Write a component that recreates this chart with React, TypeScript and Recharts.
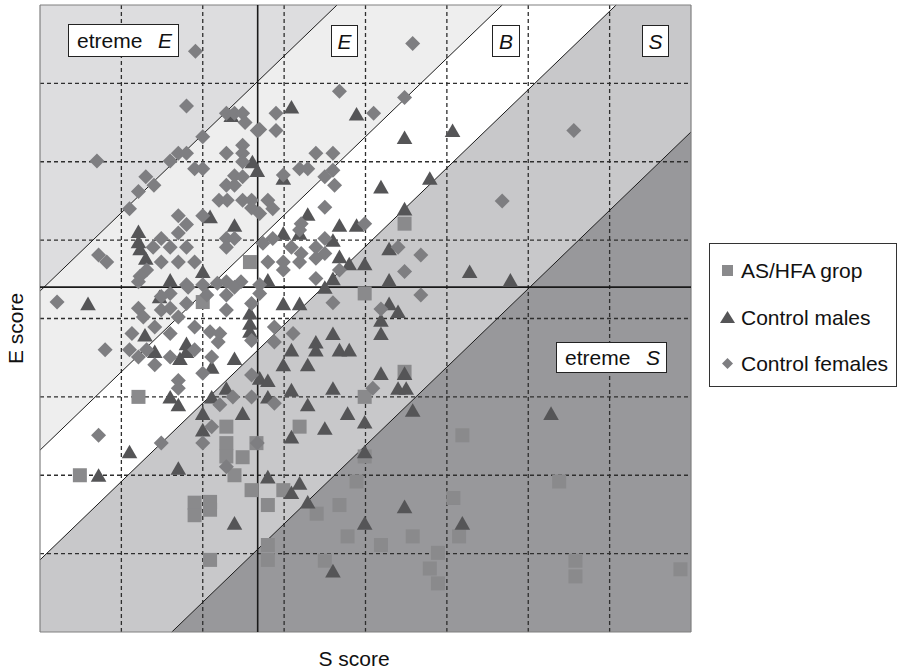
import React from 'react';
import { ComposedChart, Area, Scatter, XAxis, YAxis, ReferenceLine } from 'recharts';

// score range on both axes and grid step
const scoreDomain = [0, 80];
const gridTicks = [10, 20, 30, 40, 50, 60, 70];
const sMean = 26.75;
const eMean = 44;

// diagonal group boundaries: E = S + c
const boundaryOffsets = [43.5, 23.2, 9.2, -16.2];
const bandNames = ['extremeE', 'typeE', 'typeB', 'typeS', 'extremeS'];
const bandColors = ['#dddddf', '#eeeeee', '#ffffff', '#c8c8ca', '#98989b'];

// [S score, E score]
const asHfaGroup = [
  [25.8, 47.2], [44.8, 52.1], [20.0, 42.1], [12.1, 30.0], [22.9, 26.2], [22.9, 24.1], [22.9, 22.4], [24.9, 22.3],
  [26.6, 24.1], [23.9, 20.0], [4.9, 20.0], [39.9, 43.2], [44.8, 33.2], [39.9, 30.0], [31.9, 26.2], [39.9, 22.4],
  [51.9, 25.1], [26.0, 18.1], [19.0, 16.5], [19.0, 14.9], [20.9, 16.6], [20.9, 15.6], [28.0, 16.2], [29.9, 18.1],
  [20.9, 9.2], [28.0, 11.1], [28.0, 9.2], [38.9, 19.2], [36.8, 16.2], [34.0, 15.1], [37.8, 12.2], [41.9, 11.1],
  [45.8, 12.2], [35.0, 9.1], [48.9, 10.1], [47.9, 8.1], [48.9, 6.2], [50.8, 17.1], [51.5, 12.2], [63.8, 19.2],
  [65.8, 9.1], [65.8, 7.1], [78.7, 8.0],
];

const controlMales = [
  [23.5, 65.9], [30.9, 67.0], [38.9, 66.1], [44.8, 63.1], [50.7, 64.0], [26.1, 60.0], [26.7, 58.9], [29.9, 57.9],
  [41.9, 56.8], [47.9, 57.9], [44.8, 54.0], [32.9, 53.3], [20.9, 53.0], [23.9, 51.9], [36.8, 51.9], [38.9, 51.9],
  [12.1, 51.1], [12.1, 49.8], [12.3, 48.9], [13.0, 47.7], [29.9, 50.9], [31.9, 50.9], [36.0, 50.0], [42.9, 48.9],
  [36.8, 47.9], [38.0, 47.0], [39.9, 47.0], [20.0, 46.0], [16.0, 44.9], [36.0, 45.1], [42.9, 44.9], [28.0, 44.9],
  [52.8, 46.0], [57.8, 44.9], [5.9, 41.9], [14.7, 42.8], [35.0, 44.0], [29.9, 41.9], [31.9, 41.9], [42.9, 41.9],
  [44.0, 40.9], [41.9, 39.8], [41.9, 38.1], [25.8, 40.7], [25.8, 39.4], [25.8, 38.4], [12.9, 37.9], [18.0, 36.8],
  [18.0, 35.8], [17.2, 34.9], [14.1, 35.8], [23.9, 34.9], [21.1, 33.8], [36.0, 38.1], [33.9, 37.0], [33.9, 36.0],
  [30.9, 36.0], [36.8, 36.0], [38.0, 36.0], [29.9, 34.1], [32.9, 34.1], [27.0, 32.4], [28.0, 32.1], [41.9, 33.0],
  [44.8, 33.0], [16.0, 30.0], [17.0, 29.0], [21.1, 30.0], [22.9, 31.1], [30.9, 30.9], [36.0, 31.1], [44.0, 31.1],
  [45.0, 31.1], [28.0, 30.0], [20.0, 27.9], [24.9, 27.9], [32.9, 29.0], [37.8, 27.9], [45.8, 28.3], [62.8, 27.9],
  [39.9, 26.8], [35.0, 26.0], [20.0, 25.8], [30.9, 24.9], [11.0, 23.0], [39.9, 23.0], [17.0, 20.9], [7.2, 20.0],
  [28.0, 19.8], [31.9, 19.0], [30.9, 17.8], [32.9, 16.6], [23.9, 13.9], [39.9, 13.9], [44.8, 16.0], [51.9, 13.9],
  [36.0, 7.8],
];

const controlFemales = [
  [19.1, 74.1], [45.8, 75.1], [18.0, 67.1], [36.8, 69.0], [44.8, 68.2], [65.6, 64.0], [56.8, 55.0],
  [22.9, 66.2], [23.9, 66.2], [24.9, 66.2], [25.2, 65.0], [26.7, 64.0], [29.0, 66.2], [27.0, 64.1], [29.0, 64.0],
  [41.0, 66.2], [20.0, 63.2], [24.9, 62.1], [24.9, 61.1], [22.9, 61.1], [17.0, 61.1], [18.0, 61.1], [16.0, 60.1],
  [7.0, 60.1], [24.9, 60.0], [19.0, 59.1], [20.0, 59.1], [23.9, 58.2], [13.0, 58.1], [22.9, 57.0], [23.9, 57.0],
  [14.0, 57.0], [24.9, 58.1], [12.1, 56.2], [22.0, 55.1], [23.0, 55.1], [24.9, 55.1], [26.0, 55.1], [11.0, 54.0],
  [26.0, 54.1], [17.0, 53.1], [20.0, 53.1], [18.0, 52.0], [17.0, 50.9], [22.9, 50.2], [23.9, 50.2], [14.9, 50.2],
  [13.9, 49.1], [16.0, 49.1], [18.0, 49.1], [22.9, 49.1], [7.2, 48.1], [8.2, 47.2], [14.9, 47.2], [17.0, 47.2],
  [19.0, 47.2], [13.1, 46.2], [12.3, 45.4], [18.0, 44.3], [20.0, 44.3], [21.8, 44.5], [22.9, 44.7], [24.7, 44.7],
  [33.9, 61.1], [36.0, 61.1], [31.9, 59.1], [32.9, 59.1], [36.0, 58.9], [35.0, 58.1], [29.9, 58.3], [36.2, 57.0],
  [28.0, 55.1], [28.6, 54.0], [27.0, 53.4], [35.0, 54.2], [32.1, 52.1], [39.9, 52.1], [31.9, 51.3], [28.6, 50.2],
  [27.4, 49.6], [35.0, 50.2], [30.9, 49.1], [33.9, 49.1], [32.1, 48.3], [35.0, 48.3], [33.9, 47.7], [28.0, 47.2],
  [29.9, 47.2], [31.9, 47.2], [29.9, 46.2], [46.8, 48.1], [44.8, 46.0], [44.0, 49.1], [33.9, 45.1], [36.8, 46.2],
  [27.0, 44.3], [2.1, 42.1], [12.1, 44.7], [18.2, 44.0], [23.9, 44.0], [16.0, 43.2], [14.9, 42.8], [20.5, 43.0],
  [22.9, 43.0], [12.1, 41.3], [12.7, 40.2], [14.9, 41.1], [17.0, 40.2], [16.0, 41.3], [18.0, 41.9], [22.9, 41.1],
  [26.0, 41.9], [11.3, 38.1], [14.1, 38.9], [16.0, 38.1], [19.0, 38.9], [20.9, 38.3], [22.1, 38.1], [21.9, 37.0],
  [26.0, 37.2], [8.0, 36.0], [11.0, 36.0], [12.1, 35.1], [13.1, 36.0], [16.0, 35.1], [14.1, 34.1], [19.0, 36.0],
  [21.1, 35.1], [20.0, 33.0], [17.0, 32.1], [17.0, 31.1], [22.1, 29.0], [23.7, 30.0], [26.0, 30.0], [26.0, 32.8],
  [21.1, 26.2], [20.0, 24.1], [14.9, 24.1], [7.2, 25.1], [46.8, 43.0], [36.0, 42.0], [41.9, 41.2], [28.8, 38.9],
  [31.1, 38.1], [28.8, 37.0], [28.8, 29.2], [40.9, 31.1], [27.0, 43.2], [22.9, 21.1], [26.7, 24.1],
];

const seriesNames = ['AS/HFA grop', 'Control males', 'Control females'];
const seriesColors = ['#8a8a8c', '#555557', '#7e7e81'];

const toPoints = (rows: number[][]) => rows.map(([s, e]) => ({ s, e }));

// range areas between neighbouring boundaries (clipped by the plot)
const edges = [400, ...boundaryOffsets, -400];
const bandData = scoreDomain.map((s) => {
  const row: any = { s };
  bandNames.forEach((name, i) => {
    row[name] = [s + edges[i + 1], s + edges[i]];
  });
  return row;
});

const boundarySegment = (c: number) =>
  c >= 0
    ? [{ x: 0, y: c }, { x: 80 - c, y: 80 }]
    : [{ x: -c, y: 0 }, { x: 80, y: 80 + c }];

const SquareMark = (p: any) => {
  if (p.cx == null) return null;
  return <rect x={p.cx - 7} y={p.cy - 7} width={14} height={14} fill={p.fill} />;
};

const TriangleMark = (p: any) => {
  if (p.cx == null) return null;
  const { cx, cy } = p;
  return <polygon points={`${cx},${cy - 7} ${cx + 7.8},${cy + 6.6} ${cx - 7.8},${cy + 6.6}`} fill={p.fill} />;
};

const DiamondMark = (p: any) => {
  if (p.cx == null) return null;
  const { cx, cy } = p;
  return <polygon points={`${cx},${cy - 7.5} ${cx + 7.5},${cy} ${cx},${cy + 7.5} ${cx - 7.5},${cy}`} fill={p.fill} />;
};

const font = '"Liberation Sans", Arial, Helvetica, sans-serif';

const Tag = ({ left, top, width, height, word, letter }: any) => (
  <div
    style={{
      position: 'absolute', left, top, width, height, boxSizing: 'border-box',
      border: '1px solid #222', background: '#fff', display: 'flex', alignItems: 'center',
      justifyContent: word ? 'space-between' : 'center', padding: word ? '0 6px 0 8px' : 0,
      fontSize: 21, lineHeight: '21px', color: '#111',
    }}
  >
    {word && <span>{word}</span>}
    <span style={{ fontStyle: 'italic' }}>{letter}</span>
  </div>
);

const LegendBox = () => {
  const icons = [
    <rect x={2} y={2} width={11} height={11} fill={seriesColors[0]} />,
    <polygon points="7.5,1 15,13 0,13" fill={seriesColors[1]} />,
    <polygon points="7.5,2 13,7.5 7.5,13 2,7.5" fill={seriesColors[2]} />,
  ];
  return (
    <div
      style={{
        position: 'absolute', left: 709, top: 243, width: 188, height: 144, boxSizing: 'border-box',
        border: '1px solid #333', background: '#fff', fontSize: 21, lineHeight: '21px', color: '#111',
      }}
    >
      {seriesNames.map((name, i) => (
        <div key={name} style={{ position: 'absolute', left: 10, top: 16 + i * 46.5, display: 'flex', alignItems: 'center', whiteSpace: 'nowrap' }}>
          <svg width={15} height={15} style={{ marginRight: 6 }}>{icons[i]}</svg>
          <span>{name}</span>
        </div>
      ))}
    </div>
  );
};

export default function App() {
  return (
    <div style={{ position: 'absolute', left: 0, top: 0, width: 899, height: 671, background: '#fff', fontFamily: font }}>
      <ComposedChart
        width={899}
        height={671}
        data={bandData}
        margin={{ top: 5, right: 208, bottom: 39, left: 40 }}
      >
        <XAxis type="number" dataKey="s" domain={scoreDomain} allowDataOverflow hide ticks={gridTicks} />
        <YAxis type="number" dataKey="e" domain={scoreDomain} allowDataOverflow hide ticks={gridTicks} />
        {bandNames.map((name, i) => (
          <Area
            key={name}
            type="linear"
            dataKey={name}
            stroke="none"
            fill={bandColors[i]}
            fillOpacity={1}
            dot={false}
            activeDot={false}
            isAnimationActive={false}
          />
        ))}
        {gridTicks.map((t) => (
          <ReferenceLine key={'gx' + t} x={t} stroke="#2e2e2e" strokeWidth={1.3} strokeDasharray="4 3" />
        ))}
        {gridTicks.map((t) => (
          <ReferenceLine key={'gy' + t} y={t} stroke="#2e2e2e" strokeWidth={1.3} strokeDasharray="4 3" />
        ))}
        {boundaryOffsets.map((c) => (
          <ReferenceLine key={'b' + c} segment={boundarySegment(c)} stroke="#1a1a1a" strokeWidth={1} ifOverflow="visible" />
        ))}
        {scoreDomain.map((v) => (
          <ReferenceLine key={'fx' + v} x={v} stroke="#808080" strokeWidth={1.2} />
        ))}
        {scoreDomain.map((v) => (
          <ReferenceLine key={'fy' + v} y={v} stroke="#808080" strokeWidth={1.2} />
        ))}
        <ReferenceLine x={sMean} stroke="#1a1a1a" strokeWidth={1.6} />
        <ReferenceLine y={eMean} stroke="#1a1a1a" strokeWidth={1.6} />
        <Scatter name={seriesNames[0]} data={toPoints(asHfaGroup)} dataKey="e" fill={seriesColors[0]} shape={SquareMark} isAnimationActive={false} />
        <Scatter name={seriesNames[1]} data={toPoints(controlMales)} dataKey="e" fill={seriesColors[1]} shape={TriangleMark} isAnimationActive={false} />
        <Scatter name={seriesNames[2]} data={toPoints(controlFemales)} dataKey="e" fill={seriesColors[2]} shape={DiamondMark} isAnimationActive={false} />
      </ComposedChart>

      <Tag left={68} top={24} width={111} height={33} word="etreme" letter="E" />
      <Tag left={331} top={25} width={27} height={32} letter="E" />
      <Tag left={492} top={25} width={28} height={32} letter="B" />
      <Tag left={642} top={25} width={27} height={32} letter="S" />
      <Tag left={556} top={342} width={111} height={31} word="etreme" letter="S" />

      <LegendBox />

      <div style={{ position: 'absolute', left: 254, top: 648, width: 200, textAlign: 'center', fontSize: 21, lineHeight: '21px', color: '#111' }}>
        S score
      </div>
      <div
        style={{
          position: 'absolute', left: -35, top: 318, width: 100, height: 21, textAlign: 'center',
          fontSize: 21, lineHeight: '21px', color: '#111', transform: 'rotate(-90deg)',
        }}
      >
        E score
      </div>
    </div>
  );
}
